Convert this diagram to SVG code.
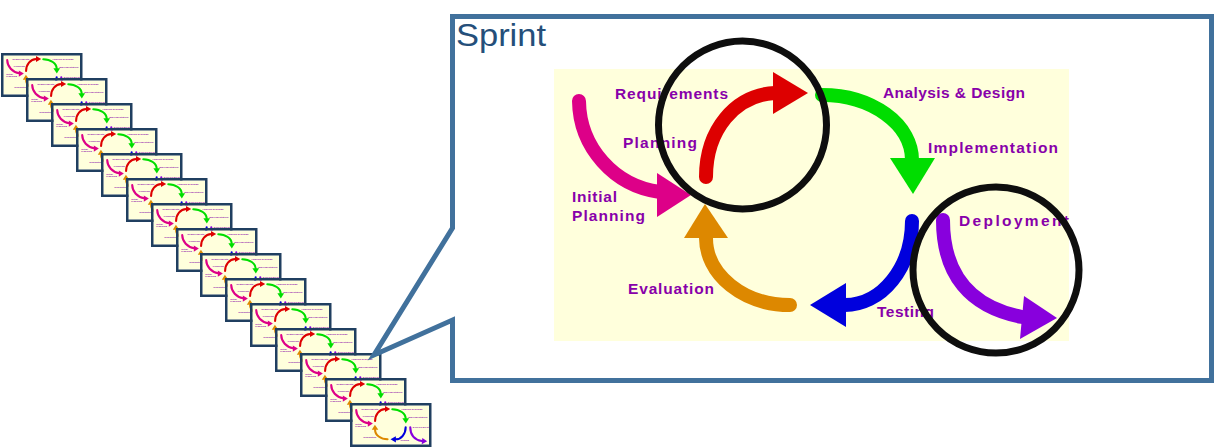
<svg xmlns="http://www.w3.org/2000/svg" xmlns:xlink="http://www.w3.org/1999/xlink" width="1214" height="448" viewBox="0 0 1214 448">
<style>
.lbl{font-family:"Liberation Sans",Arial,sans-serif;font-size:15.5px;font-weight:bold;fill:#8800AA}
.arc{fill:none;stroke-width:14;stroke-linecap:round}
.tb{fill:none;stroke:#203F60;stroke-width:2.5}
.ring{fill:none;stroke:#0E0E0E;stroke-width:7}
</style>
<rect width="1214" height="448" fill="#FFFFFF"/>
<g id="stack">
<g id="thumb-1"><use href="#cycle" transform="translate(3.5,55.5) scale(0.1485,0.1434) translate(-554,-69)"/><rect class="tb" x="2.25" y="54.25" width="79" height="41.5"/></g>
<g id="thumb-2"><use href="#cycle" transform="translate(28.5,80.5) scale(0.1485,0.1434) translate(-554,-69)"/><rect class="tb" x="27.25" y="79.25" width="79" height="41.5"/></g>
<g id="thumb-3"><use href="#cycle" transform="translate(53.5,105.5) scale(0.1485,0.1434) translate(-554,-69)"/><rect class="tb" x="52.25" y="104.25" width="79" height="41.5"/></g>
<g id="thumb-4"><use href="#cycle" transform="translate(78.5,130.5) scale(0.1485,0.1434) translate(-554,-69)"/><rect class="tb" x="77.25" y="129.25" width="79" height="41.5"/></g>
<g id="thumb-5"><use href="#cycle" transform="translate(103.5,155.5) scale(0.1485,0.1434) translate(-554,-69)"/><rect class="tb" x="102.25" y="154.25" width="79" height="41.5"/></g>
<g id="thumb-6"><use href="#cycle" transform="translate(128.5,180.5) scale(0.1485,0.1434) translate(-554,-69)"/><rect class="tb" x="127.25" y="179.25" width="79" height="41.5"/></g>
<g id="thumb-7"><use href="#cycle" transform="translate(153.5,205.5) scale(0.1485,0.1434) translate(-554,-69)"/><rect class="tb" x="152.25" y="204.25" width="79" height="41.5"/></g>
<g id="thumb-8"><use href="#cycle" transform="translate(178.5,230.5) scale(0.1485,0.1434) translate(-554,-69)"/><rect class="tb" x="177.25" y="229.25" width="79" height="41.5"/></g>
<g id="thumb-9"><use href="#cycle" transform="translate(202.5,255.5) scale(0.1485,0.1434) translate(-554,-69)"/><rect class="tb" x="201.25" y="254.25" width="79" height="41.5"/></g>
<g id="thumb-10"><use href="#cycle" transform="translate(227.5,280.5) scale(0.1485,0.1434) translate(-554,-69)"/><rect class="tb" x="226.25" y="279.25" width="79" height="41.5"/></g>
<g id="thumb-11"><use href="#cycle" transform="translate(252.5,305.5) scale(0.1485,0.1434) translate(-554,-69)"/><rect class="tb" x="251.25" y="304.25" width="79" height="41.5"/></g>
<g id="thumb-12"><use href="#cycle" transform="translate(277.5,330.5) scale(0.1485,0.1434) translate(-554,-69)"/><rect class="tb" x="276.25" y="329.25" width="79" height="41.5"/></g>
<g id="thumb-13"><use href="#cycle" transform="translate(302.5,355.5) scale(0.1485,0.1434) translate(-554,-69)"/><rect class="tb" x="301.25" y="354.25" width="79" height="41.5"/></g>
<g id="thumb-14"><use href="#cycle" transform="translate(327.5,380.5) scale(0.1485,0.1434) translate(-554,-69)"/><rect class="tb" x="326.25" y="379.25" width="79" height="41.5"/></g>
<g id="thumb-15"><use href="#cycle" transform="translate(352.5,405.5) scale(0.1485,0.1434) translate(-554,-69)"/><rect class="tb" x="351.25" y="404.25" width="79" height="41.5"/></g>
</g>
<g id="sprint-callout">
<path d="M452.5,228 V16.5 H1211.5 V380.5 H452.5 V320 L374,355 Z" fill="#FFFFFF" stroke="#41719C" stroke-width="5"/>
<text x="456" y="46" font-family="Liberation Sans, Arial, sans-serif" font-size="31" fill="#254F7A" textLength="90" lengthAdjust="spacingAndGlyphs">Sprint</text>
</g>
<g id="cycle">
<rect x="554" y="69" width="515" height="272" fill="#FFFFDC"/>
<g id="arrow-initial"><path class="arc" stroke="#DD0088" d="M579,101 A93,93 0 0 0 660,192"/><polygon fill="#DD0088" points="657,173 691,195 657,217"/></g>
<g id="arrow-requirements"><path class="arc" stroke="#DD0000" d="M706,177 C706,130 735,95 775,93"/><polygon fill="#DD0000" points="773,72 808,93 773,114"/></g>
<g id="arrow-analysis"><path class="arc" stroke="#00DD00" d="M822,95 A90,65 0 0 1 912,160"/><polygon fill="#00DD00" points="890,158 935,158 913,194"/></g>
<g id="arrow-testing"><path class="arc" stroke="#0000DD" d="M912,221 A67,84 0 0 1 845,305"/><polygon fill="#0000DD" points="846,283 810,305 846,327"/></g>
<g id="arrow-evaluation"><path class="arc" stroke="#DD8800" d="M790,305 A84,67 0 0 1 706,238"/><polygon fill="#DD8800" points="684,238 728,238 705,204"/></g>
<g id="arrow-deployment"><path class="arc" stroke="#8800DD" d="M943,220 C943,275 970,307 1022,317"/><polygon fill="#8800DD" points="1024,296 1057,318 1020,339"/></g>
<g id="labels">
<text class="lbl" x="615" y="99" textLength="113" lengthAdjust="spacing">Requirements</text>
<text class="lbl" x="623" y="148" textLength="74" lengthAdjust="spacing">Planning</text>
<text class="lbl" x="572" y="202" textLength="45" lengthAdjust="spacing">Initial</text>
<text class="lbl" x="572" y="221" textLength="73" lengthAdjust="spacing">Planning</text>
<text class="lbl" x="628" y="294" textLength="86" lengthAdjust="spacing">Evaluation</text>
<text class="lbl" x="877" y="317" textLength="57" lengthAdjust="spacing">Testing</text>
<text class="lbl" x="959" y="226" textLength="110" lengthAdjust="spacing">Deployment</text>
<text class="lbl" x="883" y="98" textLength="142" lengthAdjust="spacing">Analysis &amp; Design</text>
<text class="lbl" x="928" y="153" textLength="130" lengthAdjust="spacing">Implementation</text>
</g>
</g>
<g id="highlights">
<circle class="ring" cx="742.5" cy="125" r="84"/>
<circle class="ring" cx="996" cy="270" r="83"/>
</g>
</svg>
